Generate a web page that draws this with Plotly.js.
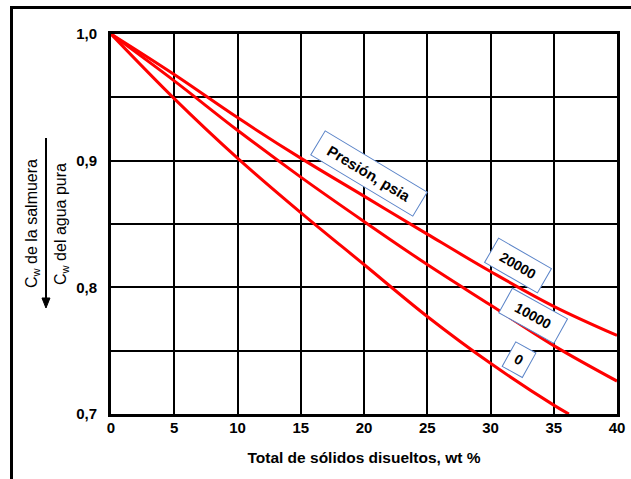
<!DOCTYPE html>
<html>
<head>
<meta charset="utf-8">
<script src="https://cdn.plot.ly/plotly-3.0.1.min.js"></script>
<style>
  html, body { margin: 0; padding: 0; background: #fff; }
  #wrap { position: relative; width: 631px; height: 479px; overflow: hidden; }
  #chart { width: 631px; height: 479px; }
  #frame { position: absolute; left: 10px; top: 6px; width: 700px; height: 600px;
           border-left: 3px solid #000; border-top: 3px solid #000; pointer-events: none; }
</style>
</head>
<body>
<div id="wrap">
  <div id="chart"></div>
  <div id="frame"></div>
</div>
<script>
// Data
const wt = [0, 5, 10, 15, 20, 25, 30, 35, 40];
const cw20000 = [1.0, 0.968, 0.934, 0.902, 0.872, 0.842, 0.8125, 0.785, 0.762];
const cw10000 = [1.0, 0.963, 0.924, 0.887, 0.852, 0.818, 0.786, 0.754, 0.726];
const wt0 = [0, 5, 10, 15, 20, 25, 30, 35, 36.2];
const cw0 = [1.0, 0.949, 0.902, 0.859, 0.818, 0.777, 0.740, 0.707, 0.700];

const xTickVals = [0, 5, 10, 15, 20, 25, 30, 35, 40];
const yTickVals = [0.7, 0.8, 0.9, 1.0];
const yTickText = ['0,7', '0,8', '0,9', '1,0'];

const labelTexts = ['Presión, psia', '20000', '10000', '0'];
const labelX = [20.4, 32.17, 33.32, 32.23];
const labelY = [0.8899, 0.8172, 0.7774, 0.7429];
const labelAngle = [31, 30, 29, 29];
const labelW = [112, 54, 56, 16];

const FONT = 'Arial, "Liberation Sans", sans-serif';
const lineStyle = {color: '#ff0000', width: 3, shape: 'spline', smoothing: 1};

const traces = [
  {x: wt, y: cw20000, mode: 'lines', line: lineStyle, name: '20000', hoverinfo: 'skip'},
  {x: wt, y: cw10000, mode: 'lines', line: lineStyle, name: '10000', hoverinfo: 'skip'},
  {x: wt0, y: cw0, mode: 'lines', line: lineStyle, name: '0', hoverinfo: 'skip'}
];

const annotations = labelTexts.map((t, i) => ({
  x: labelX[i], y: labelY[i], xref: 'x', yref: 'y',
  xanchor: 'center', yanchor: 'middle',
  text: '<b>' + t + '</b>', showarrow: false, textangle: labelAngle[i],
  font: {family: FONT, size: i === 0 ? 15 : 14, color: '#000'},
  bgcolor: '#ffffff', bordercolor: '#5b84c8', borderwidth: 1, borderpad: 3,
  width: labelW[i], height: 21
}));

annotations.push(
  {xref: 'paper', yref: 'paper', x: -0.156, y: 0.5, xanchor: 'center', yanchor: 'middle',
   textangle: -90, showarrow: false,
   text: 'C<sub>w</sub> de la salmuera', font: {family: FONT, size: 16, color: '#000'}},
  {xref: 'paper', yref: 'paper', x: -0.0988, y: 0.5, xanchor: 'center', yanchor: 'middle',
   textangle: -90, showarrow: false,
   text: 'C<sub>w</sub> del agua pura', font: {family: FONT, size: 16, color: '#000'}}
);

// fraction bar with downward arrow (paper coordinates)
const shapes = [
  {type: 'line', xref: 'paper', yref: 'paper', x0: -0.1285, x1: -0.1285, y0: 0.7263, y1: 0.30,
   line: {color: '#000', width: 2}},
  {type: 'path', xref: 'paper', yref: 'paper',
   path: 'M -0.1364,0.3053 L -0.1206,0.3053 L -0.1285,0.2789 Z',
   fillcolor: '#000', line: {color: '#000', width: 1}}
];

const layout = {
  width: 631, height: 479,
  margin: {l: 111, r: 14, t: 34, b: 65},
  paper_bgcolor: '#ffffff', plot_bgcolor: '#ffffff',
  showlegend: false,
  font: {family: FONT, color: '#000'},
  xaxis: {
    range: [0, 40], tickmode: 'array', tickvals: xTickVals,
    ticktext: xTickVals.map(String),
    showgrid: true, gridcolor: '#000', gridwidth: 2,
    showline: true, linecolor: '#000', linewidth: 3, mirror: true,
    zeroline: false, ticks: '', ticklabelstandoff: -2,
    tickfont: {family: FONT, size: 15, color: '#000', weight: 'bold'},
    title: {text: 'Total de sólidos disueltos, wt %', standoff: 18,
            font: {family: FONT, size: 15.5, color: '#000', weight: 'bold'}}
  },
  yaxis: {
    range: [0.7, 1.0], tickmode: 'array', tickvals: yTickVals, ticktext: yTickText,
    showgrid: true, gridcolor: '#000', gridwidth: 2,
    minor: {tick0: 0.7, dtick: 0.05, showgrid: true, gridcolor: '#000', gridwidth: 2, ticks: ''},
    showline: true, linecolor: '#000', linewidth: 3, mirror: true,
    zeroline: false, ticks: '', ticklabelstandoff: 8,
    tickfont: {family: FONT, size: 15, color: '#000', weight: 'bold'}
  },
  shapes: shapes,
  annotations: annotations
};

Plotly.newPlot('chart', traces, layout, {displayModeBar: false, staticPlot: true});
</script>
</body>
</html>
